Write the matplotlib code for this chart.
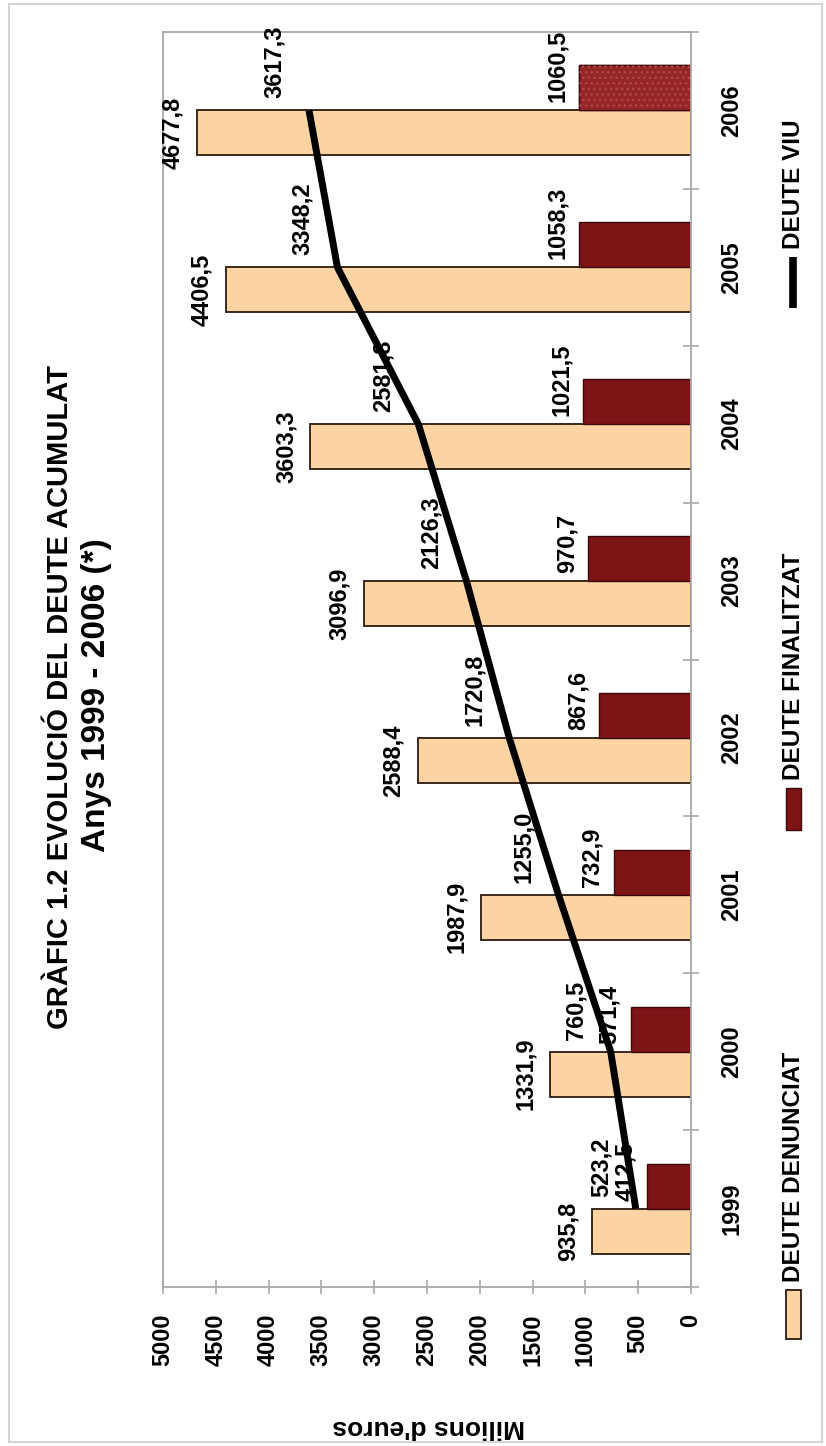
import numpy as np
import matplotlib
matplotlib.use('Agg')
from matplotlib import pyplot as plt
from matplotlib.patches import Rectangle
from matplotlib.lines import Line2D
from matplotlib.transforms import offset_copy

# Deute acumulat, milions d'euros
anys = ['1999', '2000', '2001', '2002', '2003', '2004', '2005', '2006']
deute_denunciat = [935.8, 1331.9, 1987.9, 2588.4, 3096.9, 3603.3, 4406.5, 4677.8]
deute_finalitzat = [412.5, 571.4, 732.9, 867.6, 970.7, 1021.5, 1058.3, 1060.5]
deute_viu = [523.2, 760.5, 1255.0, 1720.8, 2126.3, 2581.8, 3348.2, 3617.3]
eix_valors = list(range(0, 5001, 500))

W, H = 826, 1446
plt.rcParams['font.family'] = ['Liberation Sans', 'DejaVu Sans']
plt.rcParams['font.weight'] = 'bold'
plt.rcParams['hatch.linewidth'] = 1.0

fig = plt.figure(figsize=(W / 100, H / 100), dpi=100)
fig.patch.set_facecolor('white')


def fx(x):
	return x / W


def fy(y):
	return 1 - y / H


def fmt(v):
	return f'{v:.1f}'.replace('.', ',')


# the chart is laid out turned a quarter: values run right to left
ax = fig.add_axes([fx(163), fy(1287), 528 / W, 1255 / H])
pos = np.arange(len(anys))
bw = 0.287

llum = '#fcd3a2'
fosc = '#7d1517'
ax.barh(pos - bw / 2, deute_denunciat, height=bw, color=llum, edgecolor='#2a1a0e', linewidth=1.3, zorder=2)
ax.barh(pos + bw / 2, deute_finalitzat, height=bw, color=fosc, edgecolor='#3a0808', linewidth=1.0, zorder=2)
# last year bar is textured
ax.barh(pos[-1:] + bw / 2, deute_finalitzat[-1:], height=bw, color='#962626', edgecolor='#3a0808', linewidth=1.0, zorder=2)
ax.barh(pos[-1:] + bw / 2, deute_finalitzat[-1:], height=bw, facecolor='none', edgecolor='#ad4a48', linewidth=0, hatch='...', zorder=2)
ax.plot(deute_viu, pos, color='black', lw=5, solid_joinstyle='round', solid_capstyle='butt', zorder=4)

tr_bar = offset_copy(ax.transData, fig=fig, x=-13, y=0, units='dots')
tr_fin = offset_copy(ax.transData, fig=fig, x=-10, y=8, units='dots')
tr_viu = offset_copy(ax.transData, fig=fig, x=-35, y=12, units='dots')
for i in range(len(anys)):
	ax.text(deute_denunciat[i], pos[i] - bw / 2, fmt(deute_denunciat[i]), rotation=90,
		ha='right', va='center', fontsize=17, transform=tr_bar, zorder=3)
	ax.text(deute_finalitzat[i], pos[i], fmt(deute_finalitzat[i]), rotation=90,
		ha='right', va='bottom', fontsize=17, transform=tr_fin, zorder=3)
	ax.text(deute_viu[i], pos[i], fmt(deute_viu[i]), rotation=90,
		ha='center', va='bottom', fontsize=17, transform=tr_viu, zorder=3)

ax.set_xlim(5000, 0)
ax.set_ylim(-0.5, len(anys) - 0.5)
ax.set_xticks(eix_valors)
ax.set_xticklabels([str(v) for v in eix_valors], rotation=90, fontsize=17)
ax.tick_params(axis='x', direction='inout', length=10, width=1.2, color='#a8a8a8', pad=14)

ax.yaxis.tick_right()
ax.set_yticks(pos)
ax.set_yticklabels(anys, rotation=90, va='center', ha='left', fontsize=17)
ax.set_yticks(np.arange(-0.5, len(anys), 1.0), minor=True)
ax.tick_params(axis='y', which='major', length=0, pad=21)
ax.tick_params(axis='y', which='minor', direction='inout', length=12, width=1.2, color='#a8a8a8')
for s in ax.spines.values():
	s.set_color('#a8a8a8')
	s.set_linewidth(1.3)

fig.text(fx(429), fy(1427), "Milions d'euros", rotation=180, ha='center', va='center', fontsize=19)

# titles
fig.text(fx(60), fy(697), 'GRÀFIC 1.2 EVOLUCIÓ DEL DEUTE ACUMULAT', rotation=90, ha='center', va='center',
	fontsize=21)
fig.text(fx(97), fy(695), 'Anys 1999 - 2006 (*)', rotation=90, ha='center', va='center',
	fontsize=24)

# legend, drawn by hand so it turns with the chart
fig.add_artist(Rectangle((fx(786), fy(1339)), 15 / W, 49 / H, transform=fig.transFigure,
	facecolor=llum, edgecolor='#2a1a0e', linewidth=1.3))
fig.text(fx(794), fy(1282), 'DEUTE DENUNCIAT', rotation=90, ha='center', va='bottom', fontsize=17.5)
fig.add_artist(Rectangle((fx(786), fy(830)), 15 / W, 42 / H, transform=fig.transFigure,
	facecolor=fosc, edgecolor='#3a0808', linewidth=1.0))
fig.text(fx(794), fy(780), 'DEUTE FINALITZAT', rotation=90, ha='center', va='bottom', fontsize=17.5)
fig.add_artist(Line2D([fx(793), fx(793)], [fy(308), fy(257)], transform=fig.transFigure,
	color='black', lw=5.5, solid_capstyle='butt'))
fig.text(fx(794), fy(249), 'DEUTE VIU', rotation=90, ha='center', va='bottom', fontsize=17.5)

# outer frame
fig.add_artist(Rectangle((fx(9), fy(1442)), 813 / W, 1438 / H, transform=fig.transFigure,
	facecolor='none', edgecolor='#d4d4d4', linewidth=1.5))

fig.savefig('out.png', dpi=100)
